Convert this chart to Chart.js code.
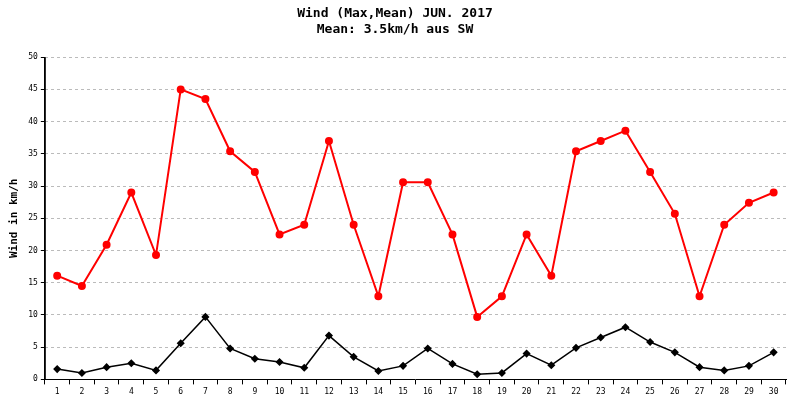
<!DOCTYPE html>
<html><head><script src="https://cdn.jsdelivr.net/npm/chart.js@4"></script>
<style>body{margin:0;background:#fff}#w{width:800px;height:400px}</style></head>
<body><div id="w"><canvas id="c"></canvas></div>
<script>
const days=[...Array(30)].map((_,i)=>String(i+1));
const maxWind=[16.1,14.5,20.9,29,19.3,45,43.5,35.4,32.2,22.5,24,37,24,12.9,30.6,30.6,22.5,9.7,12.9,22.5,16.1,35.4,37,38.6,32.2,25.7,12.9,24,27.4,29];
const meanWind=[1.6,1.0,1.9,2.5,1.4,5.6,9.7,4.8,3.2,2.7,1.8,6.8,3.5,1.3,2.1,4.8,2.4,0.8,1.0,4.0,2.2,4.9,6.5,8.1,5.8,4.2,1.9,1.4,2.1,4.2];
const titleLines=['Wind (Max,Mean) JUN. 2017','Mean: 3.5km/h aus SW'];
const F='"DejaVu Sans Mono", monospace';
const axisLine={id:'axisLine',afterDraw(c){const a=c.chartArea,x=c.ctx;x.save();x.strokeStyle='#000';x.lineWidth=1;x.beginPath();x.moveTo(a.left+0.5,a.top);x.lineTo(a.left+0.5,a.bottom);x.stroke();x.restore();}};
new Chart(document.getElementById('c'),{type:'line',
data:{labels:days,datasets:[
{data:maxWind,borderColor:'#f00',backgroundColor:'#f00',borderWidth:2,pointRadius:3,pointStyle:'circle',tension:0},
{data:meanWind,borderColor:'#000',backgroundColor:'#000',borderWidth:1.5,pointRadius:3,pointStyle:'rectRot',tension:0}]},
options:{responsive:true,maintainAspectRatio:false,animation:false,
layout:{padding:{left:4,right:14,top:2,bottom:0}},
plugins:{legend:{display:false},tooltip:{enabled:false},
title:{display:true,text:titleLines,color:'#000',font:{family:F,size:13,weight:'bold'},padding:{top:4,bottom:20},lineHeight:1.5}},
scales:{x:{offset:true,grid:{drawOnChartArea:false,drawTicks:true,tickLength:5,color:'#000',offset:true},border:{color:'#000'},ticks:{color:'#000',font:{family:F,size:8},autoSkip:false,maxRotation:0}},
y:{min:0,max:50,border:{color:'#000',dash:[3,3]},title:{display:true,text:'Wind in km/h',color:'#000',font:{family:F,size:11,weight:'bold'}},
grid:{color:'#bbb',tickColor:'#000',tickLength:4},ticks:{stepSize:5,color:'#000',font:{family:F,size:8}}}}},
plugins:[axisLine]});
</script>
</body></html>
